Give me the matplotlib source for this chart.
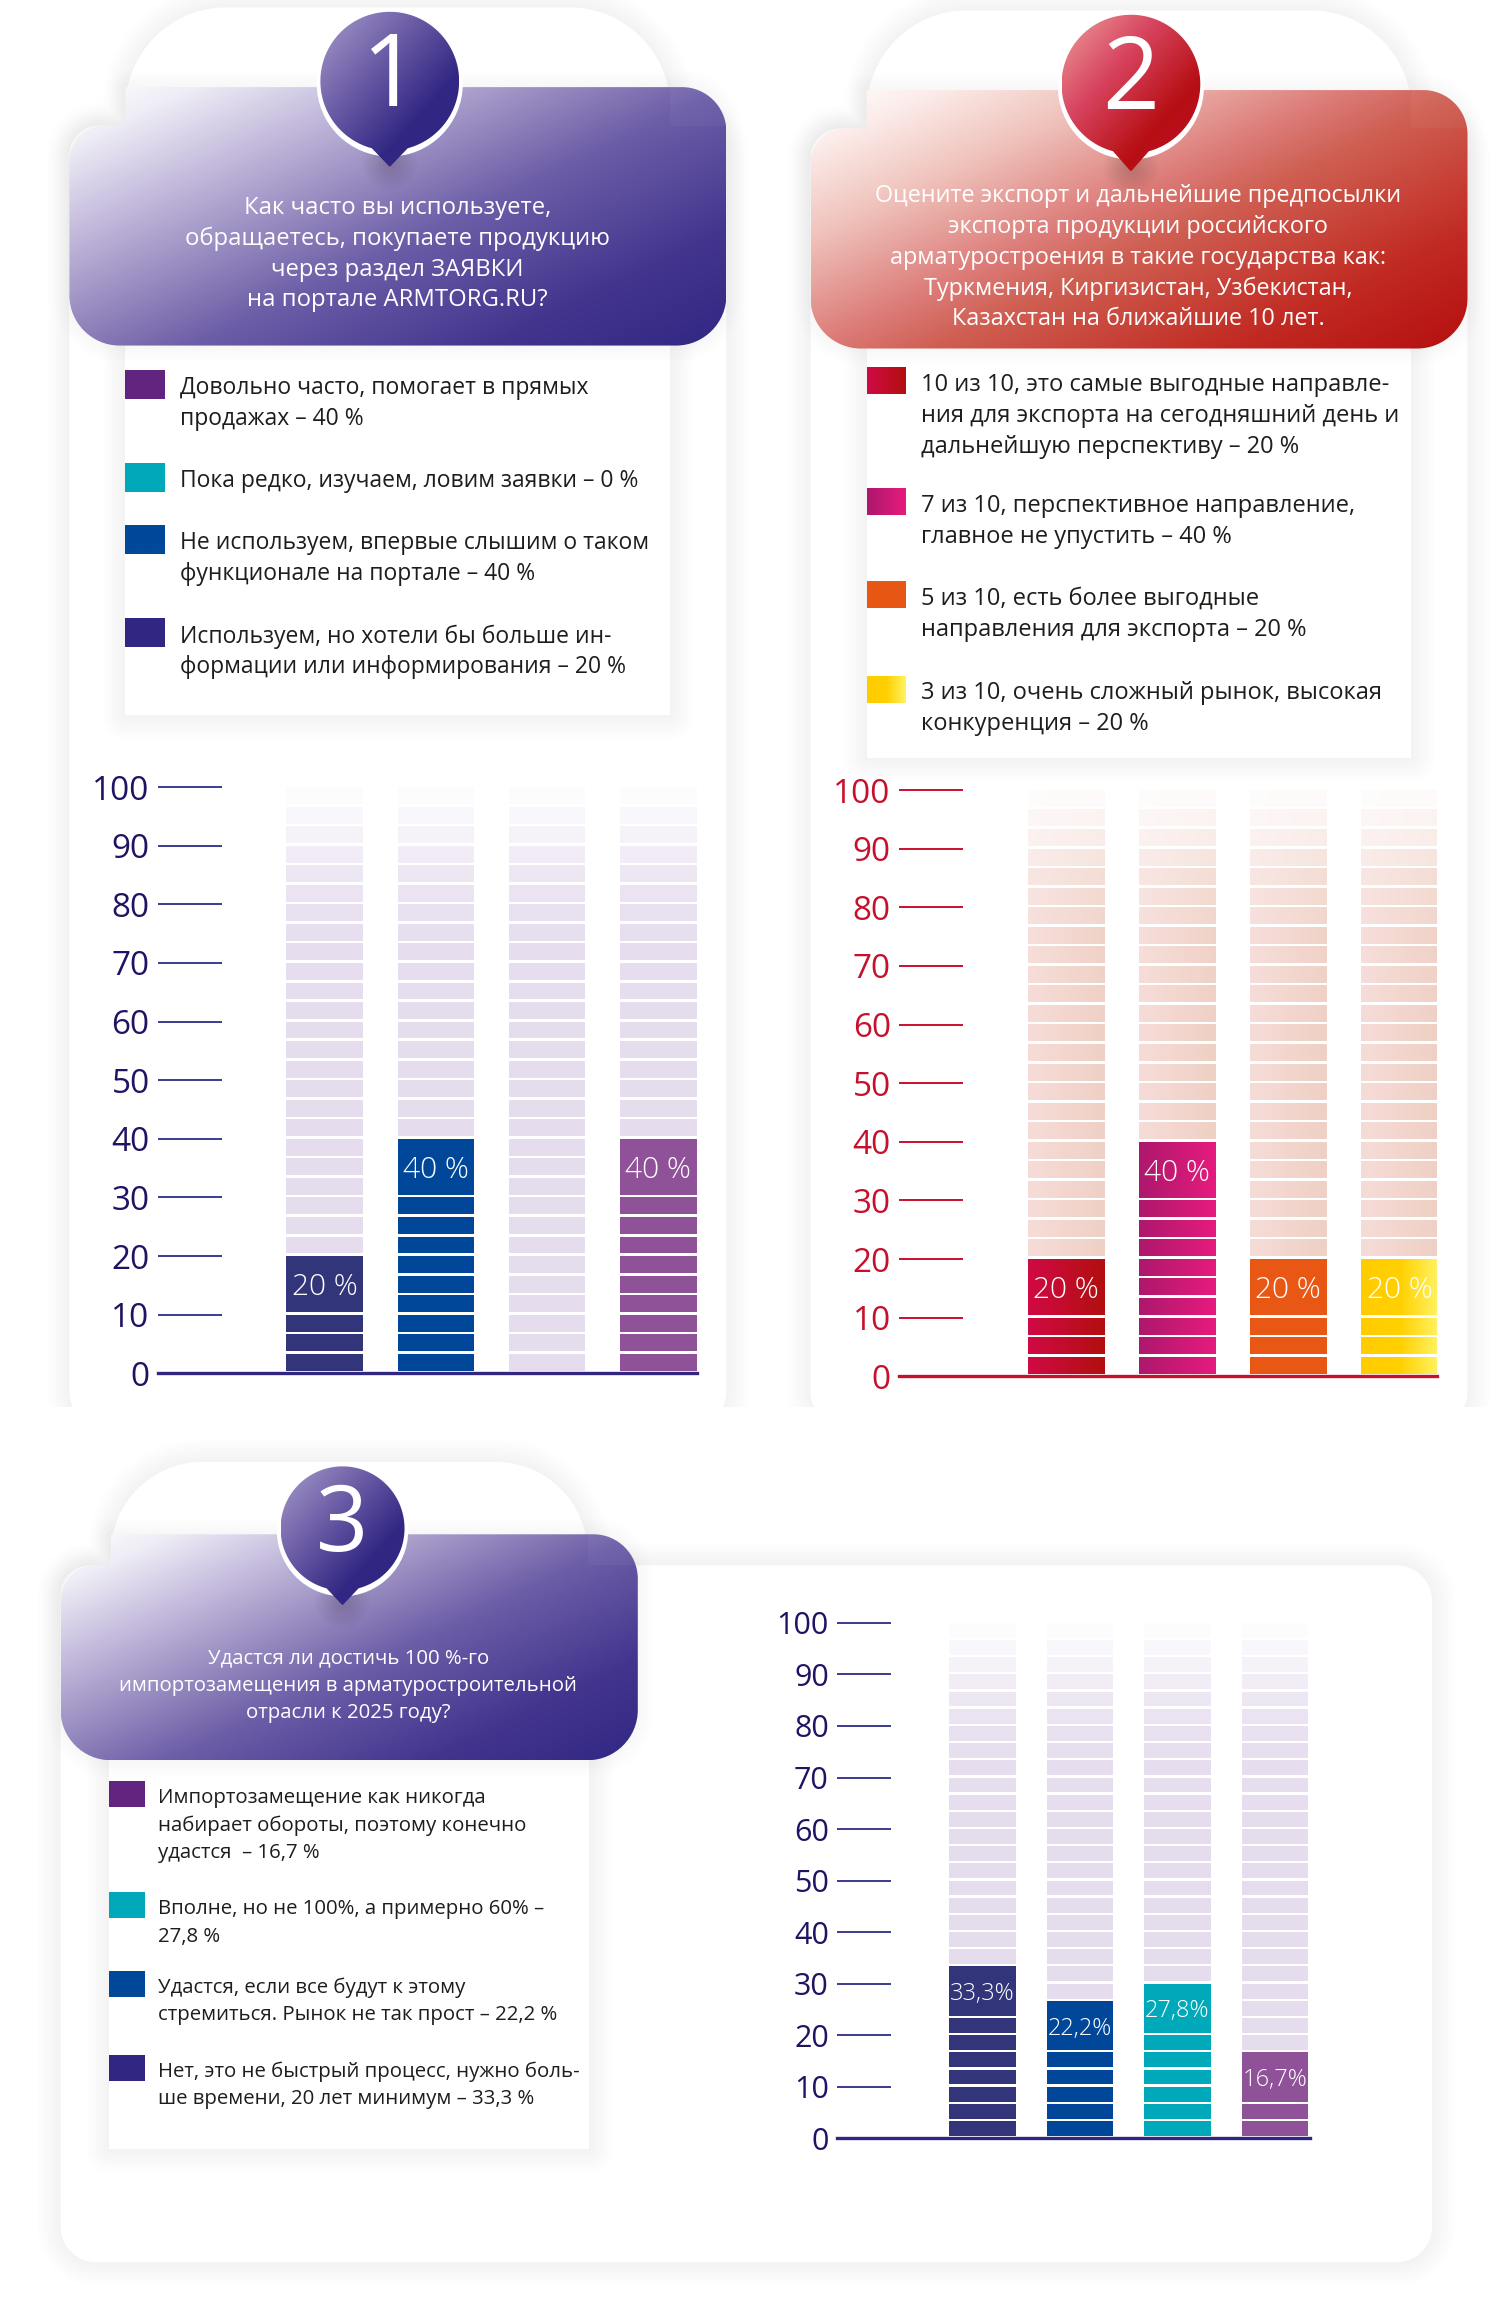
#!/usr/bin/env python3
"""
Три блока опроса ARMTORG: вопрос, легенда и столбики из сегментов
"""

import matplotlib
matplotlib.use("Agg")
import matplotlib.pyplot as plt
import numpy as np
from matplotlib.colors import LinearSegmentedColormap, to_rgb
from matplotlib.patches import PathPatch, Rectangle
from matplotlib.path import Path

plt.rcParams['font.family'] = ['Open Sans', 'DejaVu Sans']

# данные
ticks = [0, 10, 20, 30, 40, 50, 60, 70, 80, 90, 100]

title_1 = ["Как часто вы используете,", "обращаетесь, покупаете продукцию",
           "через раздел ЗАЯВКИ", "на портале ARMTORG.RU?"]
legend_1 = [["Довольно часто, помогает в прямых", "продажах – 40 %"],
            ["Пока редко, изучаем, ловим заявки – 0 %"],
            ["Не используем, впервые слышим о таком", "функционале на портале – 40 %"],
            ["Используем, но хотели бы больше ин-", "формации или информирования – 20 %"]]
values_1 = [20, 40, 0, 40]
labels_1 = ["20 %", "40 %", "", "40 %"]

title_2 = ["Оцените экспорт и дальнейшие предпосылки", "экспорта продукции российского",
           "арматуростроения в такие государства как:", "Туркмения, Киргизистан, Узбекистан,",
           "Казахстан на ближайшие 10 лет."]
legend_2 = [["10 из 10, это самые выгодные направле-", "ния для экспорта на сегодняшний день и",
             "дальнейшую перспективу – 20 %"],
            ["7 из 10, перспективное направление,", "главное не упустить – 40 %"],
            ["5 из 10, есть более выгодные", "направления для экспорта – 20 %"],
            ["3 из 10, очень сложный рынок, высокая", "конкуренция – 20 %"]]
values_2 = [20, 40, 20, 20]
labels_2 = ["20 %", "40 %", "20 %", "20 %"]

title_3 = ["Удастся ли достичь 100 %-го", "импортозамещения в арматуростроительной",
           "отрасли к 2025 году?"]
legend_3 = [["Импортозамещение как никогда", "набирает обороты, поэтому конечно", "удастся  – 16,7 %"],
            ["Вполне, но не 100%, а примерно 60% –", "27,8 %"],
            ["Удастся, если все будут к этому", "стремиться. Рынок не так прост – 22,2 %"],
            ["Нет, это не быстрый процесс, нужно боль-", "ше времени, 20 лет минимум – 33,3 %"]]
values_3 = [33.3, 26.7, 30, 16.7]
labels_3 = ["33,3%", "22,2%", "27,8%", "16,7%"]

# цвета
NAVY = '#32357a'
BLUE = '#00479a'
TEAL = '#00a9b9'
PURPLE = '#8f5198'
swatch_violet = ['#61247f', TEAL, '#00489a', '#312783']
swatch_red = [['#d00a45', '#b20f0f'], ['#ad186c', '#e61b7e'], ['#e85714', '#e85714'],
              ['#ffcc00', '#ffd000', '#fff25f']]
bars_1 = [[NAVY], [BLUE], [NAVY], [PURPLE]]
bars_2 = swatch_red
bars_3 = [[NAVY], [BLUE], [TEAL], [PURPLE]]

violet_head = LinearSegmentedColormap.from_list('vh', [(0, '#ffffff'), (.1, '#efedf6'), (.25, '#c5bcdd'),
                                                       (.45, '#8b7db8'), (.55, '#6d5ea8'), (.8, '#43358e'),
                                                       (1, '#312783')])
red_head = LinearSegmentedColormap.from_list('rh', [(0, '#ffffff'), (.1, '#fcecea'), (.25, '#f0c4bd'),
                                                    (.45, '#dc7b78'), (.55, '#cf5f52'), (.8, '#c12a22'),
                                                    (1, '#b50f10')])
violet_pin = LinearSegmentedColormap.from_list('vp', [(0, '#a79ccb'), (.35, '#6f5fa8'), (.7, '#312783'), (1, '#312783')])
red_pin = LinearSegmentedColormap.from_list('rp', [(0, '#eda09c'), (.35, '#d84560'), (.7, '#b70f14'), (1, '#c00d2c')])

W, H = 1016, 1567
SEG = 100 / 30
GAP = 0.45

fig = plt.figure(figsize=(15, 23.14), dpi=100, facecolor='white')
bg = fig.add_axes([0, 0, 1, 1])
bg.set_xlim(0, W)
bg.set_ylim(H, 0)
bg.set_autoscale_on(False)
bg.axis('off')


def rounded_poly(pts):
    """Контур из точек (x, y, радиус угла)"""
    verts, codes = [], []
    n = len(pts)
    k = 0.55
    for i in range(n):
        p = np.array(pts[i][:2], dtype=float)
        r = pts[i][2]
        a = np.array(pts[i - 1][:2], dtype=float) - p
        b = np.array(pts[(i + 1) % n][:2], dtype=float) - p
        a = a / np.linalg.norm(a)
        b = b / np.linalg.norm(b)
        s = p + a * r
        e = p + b * r
        verts.append(s)
        codes.append(Path.MOVETO if i == 0 else Path.LINETO)
        if r > 0:
            verts += [s - a * r * k, e - b * r * k, e]
            codes += [Path.CURVE4] * 3
    verts.append(verts[0])
    codes.append(Path.CLOSEPOLY)
    return Path(verts, codes)


def shadow(path, z, alpha=0.0035, steps=12, width=34):
    for lw in np.linspace(2, width, steps):
        bg.add_patch(PathPatch(path, fc='none', ec='black', lw=lw, alpha=alpha, zorder=z, joinstyle='round'))


def card(path, z, alpha=0.003):
    shadow(path, z, alpha=alpha)
    bg.add_patch(PathPatch(path, fc='white', ec='none', zorder=z + 0.1))


def gradient(path, box, cmap, z, wx=.55, wy=.45):
    x0, y0, x1, y1 = box
    xf, yf = np.meshgrid(np.linspace(0, 1, 300), np.linspace(0, 1, 200))
    im = bg.imshow(cmap(wx * xf + wy * yf), extent=(x0, x1, y1, y0), origin='upper',
                   aspect='auto', zorder=z, interpolation='bilinear')
    im.set_clip_path(path, transform=bg.transData)


def pin(cx, cy, r, tip, cmap, digit, size):
    ang = np.radians(np.linspace(90 + 15, 90 + 345, 120))
    ring = np.c_[cx + r * np.cos(ang), cy + r * np.sin(ang)]
    verts = np.vstack([ring, [cx + 1.5, tip - 1.5], [cx, tip], [cx - 1.5, tip - 1.5], ring[0]])
    path = Path(verts)
    # тень под кончиком и белый ободок
    for i in range(8):
        bg.add_patch(plt.Circle((cx, tip - 3), 3 + i * 2.2, fc='black', ec='none', alpha=0.02, zorder=5))
    bg.add_patch(plt.Circle((cx, cy + 1.5), r + 2.5, fc='white', ec='none', zorder=5.1))
    gradient(path, (cx - r, cy - r, cx + r, tip), cmap, 5.2, .5, .5)
    bg.text(cx, cy - 1, digit, color='white', fontsize=size, ha='center', va='center', zorder=6)


def panel_head(x0, x1, xt0, xt1, ytop, ystep, ybot, cmap):
    path = rounded_poly([(xt0, ytop, 0), (x1, ytop, 30), (x1, ybot, 34), (x0, ybot, 34),
                         (x0, ystep, 24), (xt0, ystep, 0)])
    shadow(path, 3, alpha=0.002, steps=8, width=24)
    gradient(path, (x0, ytop, x1, ybot), cmap, 4)
    # светлая полоса там, где карточка лежит под шапкой
    veil = Rectangle((xt1, ytop), x1 - xt1, ystep - ytop, fc='white', ec='none', alpha=.04, zorder=4.1)
    bg.add_patch(veil)
    veil.set_clip_path(path, transform=bg.transData)


def swatch(x0, x1, y0, y1, colors, z=7):
    if isinstance(colors, str):
        colors = [colors, colors]
    cm = LinearSegmentedColormap.from_list('s', colors)
    bg.imshow(cm(np.linspace(0, 1, 64))[None, :, :], extent=(x0, x1, y1, y0), origin='upper',
              aspect='auto', zorder=z, interpolation='bilinear')


def legend(items, tops, sw_x, sw_h, tx, line_h, colors, size):
    for lines, top, c in zip(items, tops, colors):
        swatch(sw_x[0], sw_x[1], top, top + sw_h, c)
        for i, s in enumerate(lines):
            bg.text(tx, top + sw_h * 0.55 + 1.5 + i * line_h, s, color='#1d1d1b', fontsize=size,
                    ha='left', va='center', zorder=7)


def title(lines, cx, y0, step, size):
    for i, s in enumerate(lines):
        bg.text(cx, y0 + i * step, s, color='white', fontsize=size, ha='center', va='center', zorder=7)


def fade_to_white(rgb, h, stops):
    f = np.interp(h, stops[0], stops[1])
    return list(np.array(rgb) * (1 - f) + f)


def draw_bar(ax, i, y0, y1, w, colors):
    ax.bar(i, y1 - y0, width=w, bottom=y0, color=[colors[0]], linewidth=0, zorder=2)
    if len(colors) > 1 and colors[0] != colors[-1]:
        cm = LinearSegmentedColormap.from_list('b', colors)
        ax.imshow(cm(np.linspace(0, 1, 64))[None, :, :], extent=(i - w / 2, i + w / 2, y0, y1),
                  aspect='auto', zorder=3, interpolation='bilinear')


def segmented_chart(box, w, values, labels, colors, bg_left, bg_right, tick_c, label_c, base_c,
                    tick_size, bar_size, first, step, tick_len):
    """box - левый край, y нуля, правый край, y сотни"""
    x0, y_zero, x1, y_top = box
    ax = fig.add_axes([x0 / W, 1 - y_zero / H, (x1 - x0) / W, (y_zero - y_top) / H])
    ax.patch.set_alpha(0)
    stops = ([60, 75, 85, 92, 100], [0, .06, .28, .62, .97])
    n_all = round(100 / SEG)
    for i, v in enumerate(values):
        n = round(v / SEG)
        for s in range(n, n_all):
            y0 = s * SEG + GAP
            y1 = (s + 1) * SEG
            mid = (y0 + y1) / 2
            draw_bar(ax, i, y0, y1, w,
                     [tuple(fade_to_white(to_rgb(bg_left), mid, stops)),
                      tuple(fade_to_white(to_rgb(bg_right), mid, stops))])
        for s in range(max(n - 3, 0)):
            draw_bar(ax, i, s * SEG + GAP, (s + 1) * SEG, w, colors[i])
        if n >= 3:
            draw_bar(ax, i, (n - 3) * SEG + GAP, n * SEG, w, colors[i])
            ax.text(i, (n - 1.5) * SEG - 0.4, labels[i], color='white', fontsize=bar_size,
                    ha='center', va='center', fontweight='light', zorder=5)
    ax.set_xlim((x0 - first) / step, (x1 - first) / step)
    ax.set_ylim(0, 100)
    ax.set_xticks([])
    ax.set_yticks(ticks)
    ax.tick_params(axis='y', direction='in', length=tick_len, width=1.4, color=tick_c,
                   labelcolor=label_c, labelsize=tick_size, pad=6)
    for side in ['top', 'right', 'left']:
        ax.spines[side].set_visible(False)
    ax.spines['bottom'].set_color(base_c)
    ax.spines['bottom'].set_linewidth(2.4)
    ax.spines['bottom'].set_zorder(6)
    return ax


# панель 1
card(rounded_poly([(85, 5, 68), (454, 5, 68), (454, 85, 0), (492, 85, 20), (492, 965, 22),
                   (47, 965, 22), (47, 85, 20), (85, 85, 0)]), 1)
# панель 2
card(rounded_poly([(587, 7, 68), (956, 7, 68), (956, 87, 0), (994, 87, 20), (994, 965, 22),
                   (549, 965, 22), (549, 87, 20), (587, 87, 0)]), 1)
# низ карточек обрезан
bg.add_patch(Rectangle((0, 953), W, 30, fc='white', ec='none', zorder=1.5))
# панель 3
card(rounded_poly([(75, 990, 62), (398, 990, 62), (398, 1060, 0), (970, 1060, 24), (970, 1532, 24),
                   (41, 1532, 24), (41, 1060, 20), (75, 1060, 0)]), 1.6)

card(rounded_poly([(85, 200, 0), (454, 200, 0), (454, 484, 0), (85, 484, 0)]), 2, alpha=0.0022)
card(rounded_poly([(587, 200, 0), (956, 200, 0), (956, 513, 0), (587, 513, 0)]), 2, alpha=0.0022)
card(rounded_poly([(74, 1150, 0), (399, 1150, 0), (399, 1455, 0), (74, 1455, 0)]), 2, alpha=0.0022)

panel_head(47, 492, 85, 454, 59, 85, 234, violet_head)
panel_head(549, 994, 587, 956, 61, 87, 236, red_head)
panel_head(41, 432, 75, 398, 1039, 1060, 1192, violet_head)

pin(264, 55, 47, 113, violet_pin, "1", 72)
pin(766, 57, 47, 116, red_pin, "2", 72)
pin(232, 1035, 42, 1087, violet_pin, "3", 66)

title(title_1, 269, 141, 20.8, 17.2)
title(title_2, 771, 133, 20.8, 16.8)
title(title_3, 236, 1123, 18.5, 14.7)

legend(legend_1, [251, 314, 356, 419], (85, 112), 19, 122, 21, swatch_violet, 16.5)
legend(legend_2, [249, 331, 394, 458], (587, 613), 18, 624, 21, swatch_red, 17)
legend(legend_3, [1207, 1282, 1335, 1392], (74, 98), 17, 107, 18.6, swatch_violet, 14.7)

segmented_chart((107, 930, 472, 533), 0.69, values_1, labels_1, bars_1, '#e5dcee', '#e5dcee',
                '#3c3a8c', '#1f1463', '#312783', 24, 21.5, 220, 75.3, 46)
segmented_chart((609, 932, 973, 535), 0.69, values_2, labels_2, bars_2, '#f6dcd8', '#efd0c4',
                '#c8102e', '#c5112c', '#c8102e', 24, 21.5, 722, 75.3, 46)
segmented_chart((567, 1448, 887, 1099), 0.68, values_3, labels_3, bars_3, '#e5dcee', '#e5dcee',
                '#3c3a8c', '#1f1463', '#312783', 22, 17, 665.5, 66, 39)

fig.savefig("out.png", dpi=100)
plt.close(fig)
